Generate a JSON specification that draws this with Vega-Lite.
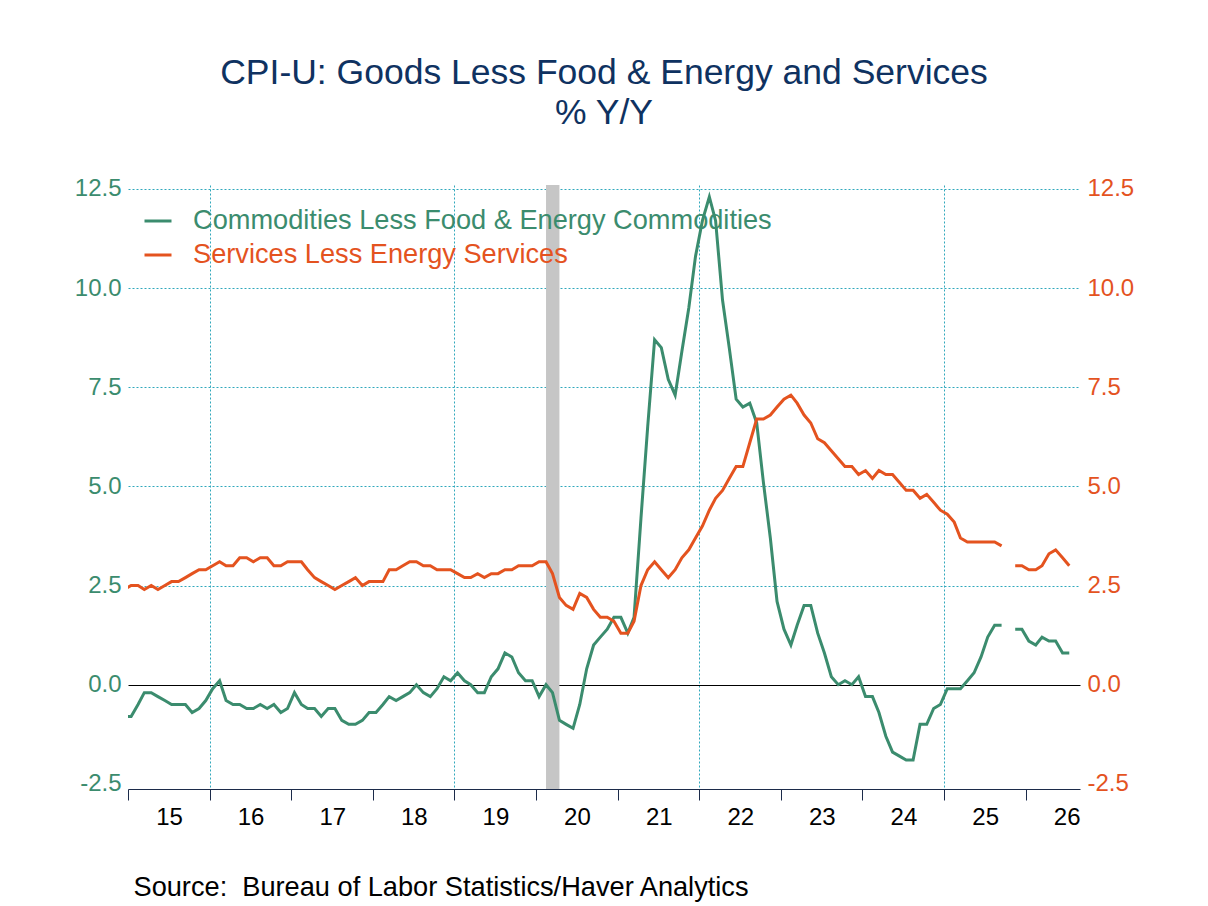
{
  "$schema": "https://vega.github.io/schema/vega-lite/v6.json",
  "width": 952,
  "height": 604,
  "autosize": "none",
  "padding": {"left": 128, "top": 185, "right": 128, "bottom": 117},
  "background": "white",
  "title": {
    "text": ["CPI-U: Goods Less Food & Energy and Services", "% Y/Y"],
    "fontSize": 35.5,
    "fontWeight": "normal",
    "color": "#0f3261",
    "anchor": "middle",
    "frame": "group",
    "lineHeight": 40,
    "offset": 45
  },
  "datasets": {
    "recession": [{"start": "2020-02-15", "end": "2020-04-15"}],
    "cpi": [
      {"date": "2014-12-15", "goods": -0.8, "services": 2.4},
      {"date": "2015-01-15", "goods": -0.8, "services": 2.5},
      {"date": "2015-02-15", "goods": -0.5, "services": 2.5},
      {"date": "2015-03-15", "goods": -0.2, "services": 2.4},
      {"date": "2015-04-15", "goods": -0.2, "services": 2.5},
      {"date": "2015-05-15", "goods": -0.3, "services": 2.4},
      {"date": "2015-06-15", "goods": -0.4, "services": 2.5},
      {"date": "2015-07-15", "goods": -0.5, "services": 2.6},
      {"date": "2015-08-15", "goods": -0.5, "services": 2.6},
      {"date": "2015-09-15", "goods": -0.5, "services": 2.7},
      {"date": "2015-10-15", "goods": -0.7, "services": 2.8},
      {"date": "2015-11-15", "goods": -0.6, "services": 2.9},
      {"date": "2015-12-15", "goods": -0.4, "services": 2.9},
      {"date": "2016-01-15", "goods": -0.1, "services": 3.0},
      {"date": "2016-02-15", "goods": 0.1, "services": 3.1},
      {"date": "2016-03-15", "goods": -0.4, "services": 3.0},
      {"date": "2016-04-15", "goods": -0.5, "services": 3.0},
      {"date": "2016-05-15", "goods": -0.5, "services": 3.2},
      {"date": "2016-06-15", "goods": -0.6, "services": 3.2},
      {"date": "2016-07-15", "goods": -0.6, "services": 3.1},
      {"date": "2016-08-15", "goods": -0.5, "services": 3.2},
      {"date": "2016-09-15", "goods": -0.6, "services": 3.2},
      {"date": "2016-10-15", "goods": -0.5, "services": 3.0},
      {"date": "2016-11-15", "goods": -0.7, "services": 3.0},
      {"date": "2016-12-15", "goods": -0.6, "services": 3.1},
      {"date": "2017-01-15", "goods": -0.2, "services": 3.1},
      {"date": "2017-02-15", "goods": -0.5, "services": 3.1},
      {"date": "2017-03-15", "goods": -0.6, "services": 2.9},
      {"date": "2017-04-15", "goods": -0.6, "services": 2.7},
      {"date": "2017-05-15", "goods": -0.8, "services": 2.6},
      {"date": "2017-06-15", "goods": -0.6, "services": 2.5},
      {"date": "2017-07-15", "goods": -0.6, "services": 2.4},
      {"date": "2017-08-15", "goods": -0.9, "services": 2.5},
      {"date": "2017-09-15", "goods": -1.0, "services": 2.6},
      {"date": "2017-10-15", "goods": -1.0, "services": 2.7},
      {"date": "2017-11-15", "goods": -0.9, "services": 2.5},
      {"date": "2017-12-15", "goods": -0.7, "services": 2.6},
      {"date": "2018-01-15", "goods": -0.7, "services": 2.6},
      {"date": "2018-02-15", "goods": -0.5, "services": 2.6},
      {"date": "2018-03-15", "goods": -0.3, "services": 2.9},
      {"date": "2018-04-15", "goods": -0.4, "services": 2.9},
      {"date": "2018-05-15", "goods": -0.3, "services": 3.0},
      {"date": "2018-06-15", "goods": -0.2, "services": 3.1},
      {"date": "2018-07-15", "goods": 0.0, "services": 3.1},
      {"date": "2018-08-15", "goods": -0.2, "services": 3.0},
      {"date": "2018-09-15", "goods": -0.3, "services": 3.0},
      {"date": "2018-10-15", "goods": -0.1, "services": 2.9},
      {"date": "2018-11-15", "goods": 0.2, "services": 2.9},
      {"date": "2018-12-15", "goods": 0.1, "services": 2.9},
      {"date": "2019-01-15", "goods": 0.3, "services": 2.8},
      {"date": "2019-02-15", "goods": 0.1, "services": 2.7},
      {"date": "2019-03-15", "goods": 0.0, "services": 2.7},
      {"date": "2019-04-15", "goods": -0.2, "services": 2.8},
      {"date": "2019-05-15", "goods": -0.2, "services": 2.7},
      {"date": "2019-06-15", "goods": 0.2, "services": 2.8},
      {"date": "2019-07-15", "goods": 0.4, "services": 2.8},
      {"date": "2019-08-15", "goods": 0.8, "services": 2.9},
      {"date": "2019-09-15", "goods": 0.7, "services": 2.9},
      {"date": "2019-10-15", "goods": 0.3, "services": 3.0},
      {"date": "2019-11-15", "goods": 0.1, "services": 3.0},
      {"date": "2019-12-15", "goods": 0.1, "services": 3.0},
      {"date": "2020-01-15", "goods": -0.3, "services": 3.1},
      {"date": "2020-02-15", "goods": 0.0, "services": 3.1},
      {"date": "2020-03-15", "goods": -0.2, "services": 2.8},
      {"date": "2020-04-15", "goods": -0.9, "services": 2.2},
      {"date": "2020-05-15", "goods": -1.0, "services": 2.0},
      {"date": "2020-06-15", "goods": -1.1, "services": 1.9},
      {"date": "2020-07-15", "goods": -0.5, "services": 2.3},
      {"date": "2020-08-15", "goods": 0.4, "services": 2.2},
      {"date": "2020-09-15", "goods": 1.0, "services": 1.9},
      {"date": "2020-10-15", "goods": 1.2, "services": 1.7},
      {"date": "2020-11-15", "goods": 1.4, "services": 1.7},
      {"date": "2020-12-15", "goods": 1.7, "services": 1.6},
      {"date": "2021-01-15", "goods": 1.7, "services": 1.3},
      {"date": "2021-02-15", "goods": 1.3, "services": 1.3},
      {"date": "2021-03-15", "goods": 1.7, "services": 1.6},
      {"date": "2021-04-15", "goods": 4.2, "services": 2.5},
      {"date": "2021-05-15", "goods": 6.5, "services": 2.9},
      {"date": "2021-06-15", "goods": 8.7, "services": 3.1},
      {"date": "2021-07-15", "goods": 8.5, "services": 2.9},
      {"date": "2021-08-15", "goods": 7.7, "services": 2.7},
      {"date": "2021-09-15", "goods": 7.3, "services": 2.9},
      {"date": "2021-10-15", "goods": 8.4, "services": 3.2},
      {"date": "2021-11-15", "goods": 9.5, "services": 3.4},
      {"date": "2021-12-15", "goods": 10.8, "services": 3.7},
      {"date": "2022-01-15", "goods": 11.7, "services": 4.0},
      {"date": "2022-02-15", "goods": 12.3, "services": 4.4},
      {"date": "2022-03-15", "goods": 11.7, "services": 4.7},
      {"date": "2022-04-15", "goods": 9.7, "services": 4.9},
      {"date": "2022-05-15", "goods": 8.5, "services": 5.2},
      {"date": "2022-06-15", "goods": 7.2, "services": 5.5},
      {"date": "2022-07-15", "goods": 7.0, "services": 5.5},
      {"date": "2022-08-15", "goods": 7.1, "services": 6.1},
      {"date": "2022-09-15", "goods": 6.6, "services": 6.7},
      {"date": "2022-10-15", "goods": 5.1, "services": 6.7},
      {"date": "2022-11-15", "goods": 3.7, "services": 6.8},
      {"date": "2022-12-15", "goods": 2.1, "services": 7.0},
      {"date": "2023-01-15", "goods": 1.4, "services": 7.2},
      {"date": "2023-02-15", "goods": 1.0, "services": 7.3},
      {"date": "2023-03-15", "goods": 1.5, "services": 7.1},
      {"date": "2023-04-15", "goods": 2.0, "services": 6.8},
      {"date": "2023-05-15", "goods": 2.0, "services": 6.6},
      {"date": "2023-06-15", "goods": 1.3, "services": 6.2},
      {"date": "2023-07-15", "goods": 0.8, "services": 6.1},
      {"date": "2023-08-15", "goods": 0.2, "services": 5.9},
      {"date": "2023-09-15", "goods": 0.0, "services": 5.7},
      {"date": "2023-10-15", "goods": 0.1, "services": 5.5},
      {"date": "2023-11-15", "goods": 0.0, "services": 5.5},
      {"date": "2023-12-15", "goods": 0.2, "services": 5.3},
      {"date": "2024-01-15", "goods": -0.3, "services": 5.4},
      {"date": "2024-02-15", "goods": -0.3, "services": 5.2},
      {"date": "2024-03-15", "goods": -0.7, "services": 5.4},
      {"date": "2024-04-15", "goods": -1.3, "services": 5.3},
      {"date": "2024-05-15", "goods": -1.7, "services": 5.3},
      {"date": "2024-06-15", "goods": -1.8, "services": 5.1},
      {"date": "2024-07-15", "goods": -1.9, "services": 4.9},
      {"date": "2024-08-15", "goods": -1.9, "services": 4.9},
      {"date": "2024-09-15", "goods": -1.0, "services": 4.7},
      {"date": "2024-10-15", "goods": -1.0, "services": 4.8},
      {"date": "2024-11-15", "goods": -0.6, "services": 4.6},
      {"date": "2024-12-15", "goods": -0.5, "services": 4.4},
      {"date": "2025-01-15", "goods": -0.1, "services": 4.3},
      {"date": "2025-02-15", "goods": -0.1, "services": 4.1},
      {"date": "2025-03-15", "goods": -0.1, "services": 3.7},
      {"date": "2025-04-15", "goods": 0.1, "services": 3.6},
      {"date": "2025-05-15", "goods": 0.3, "services": 3.6},
      {"date": "2025-06-15", "goods": 0.7, "services": 3.6},
      {"date": "2025-07-15", "goods": 1.2, "services": 3.6},
      {"date": "2025-08-15", "goods": 1.5, "services": 3.6},
      {"date": "2025-09-15", "goods": 1.5, "services": 3.5},
      {"date": "2025-10-15", "goods": null, "services": null},
      {"date": "2025-11-15", "goods": 1.4, "services": 3.0},
      {"date": "2025-12-15", "goods": 1.4, "services": 3.0},
      {"date": "2026-01-15", "goods": 1.1, "services": 2.9},
      {"date": "2026-02-15", "goods": 1.0, "services": 2.9},
      {"date": "2026-03-15", "goods": 1.2, "services": 3.0},
      {"date": "2026-04-15", "goods": 1.1, "services": 3.3},
      {"date": "2026-05-15", "goods": 1.1, "services": 3.4},
      {"date": "2026-06-15", "goods": 0.8, "services": 3.2},
      {"date": "2026-07-15", "goods": 0.8, "services": 3.0}
    ]
  },
  "encoding": {
    "x": {
      "field": "date",
      "type": "temporal",
      "scale": {"domain": [{"year": 2015, "month": 1, "date": 1}, {"year": 2026, "month": 9, "date": 1}]},
      "axis": {
        "title": "Source:\u00a0 Bureau of Labor Statistics/Haver Analytics",
        "titleFont": "Liberation Sans",
        "titleFontSize": 27.2,
        "titleFontWeight": "normal",
        "titleColor": "#000000",
        "titleAlign": "left",
        "titleBaseline": "alphabetic",
        "titleX": 5,
        "titleY": 106,
        "values": [
          {"year": 2015, "month": 1, "date": 1}, {"year": 2016, "month": 1, "date": 1},
          {"year": 2017, "month": 1, "date": 1}, {"year": 2018, "month": 1, "date": 1},
          {"year": 2019, "month": 1, "date": 1}, {"year": 2020, "month": 1, "date": 1},
          {"year": 2021, "month": 1, "date": 1}, {"year": 2022, "month": 1, "date": 1},
          {"year": 2023, "month": 1, "date": 1}, {"year": 2024, "month": 1, "date": 1},
          {"year": 2025, "month": 1, "date": 1}, {"year": 2026, "month": 1, "date": 1}
        ],
        "format": "%y",
        "labelFontSize": 24,
        "labelColor": "#000000",
        "labelOffset": 41,
        "labelFlush": false,
        "labelOverlap": false,
        "labelBound": false,
        "labelPadding": 5,
        "tickSize": 11,
        "tickColor": "#1c2b4a",
        "domainColor": "#1c2b4a",
        "grid": true,
        "gridColor": "#30a8bc",
        "gridDash": [2, 2],
        "gridOpacity": {"condition": {"test": "year(datum.value) % 3 == 0", "value": 1}, "value": 0}
      }
    }
  },
  "layer": [
    {
      "data": {"name": "recession"},
      "mark": {"type": "rect", "color": "#c6c6c6"},
      "encoding": {
        "x": {
          "field": "start",
          "type": "temporal",
          "scale": {"domain": [{"year": 2015, "month": 1, "date": 1}, {"year": 2026, "month": 9, "date": 1}]}
        },
        "x2": {"field": "end"}
      }
    },
    {
      "data": {"name": "cpi"},
      "transform": [
        {"fold": ["goods", "services"], "as": ["series", "value"]},
        {"filter": "datum.series == 'goods'"}
      ],
      "mark": {"type": "line", "strokeWidth": 3, "clip": true},
      "encoding": {
        "y": {
          "field": "value",
          "type": "quantitative",
          "scale": {"domain": [-2.63, 12.6], "nice": false, "zero": false},
          "axis": {
            "orient": "left",
            "title": null,
            "values": [-2.5, 0, 2.5, 5, 7.5, 10, 12.5],
            "labelExpr": "(datum.value < 0 ? '-' : '') + format(abs(datum.value), '.1f')",
            "domain": false,
            "ticks": false,
            "labelFontSize": 24,
            "labelColor": "#3b8c6e",
            "labelPadding": 7,
            "grid": true,
            "gridWidth": 1,
            "gridColor": {"condition": {"test": "datum.value == 0", "value": "#000000"}, "value": "#30a8bc"},
            "gridDash": {"condition": {"test": "datum.value == 0", "value": []}, "value": [2, 2]},
            "gridOpacity": {"condition": {"test": "datum.value < -1", "value": 0}, "value": 1}
          }
        },
        "stroke": {
          "field": "series",
          "type": "nominal",
          "scale": {"domain": ["goods"], "range": ["#3b8c6e"]},
          "legend": {
            "orient": "none",
            "legendX": 15,
            "legendY": 21,
            "title": null,
            "padding": 0,
            "symbolType": "stroke",
            "symbolSize": 729,
            "symbolStrokeWidth": 3,
            "labelFontSize": 27.2,
            "labelOffset": 20,
            "labelLimit": 0,
            "labelColor": "#3b8c6e",
            "labelExpr": "'Commodities Less Food & Energy Commodities'"
          }
        }
      }
    },
    {
      "data": {"name": "cpi"},
      "transform": [
        {"fold": ["goods", "services"], "as": ["series", "value"]},
        {"filter": "datum.series == 'services'"}
      ],
      "mark": {"type": "line", "strokeWidth": 3, "clip": true},
      "encoding": {
        "y": {
          "field": "value",
          "type": "quantitative",
          "scale": {"domain": [-2.63, 12.6], "nice": false, "zero": false},
          "axis": {
            "orient": "right",
            "title": null,
            "values": [-2.5, 0, 2.5, 5, 7.5, 10, 12.5],
            "labelExpr": "(datum.value < 0 ? '-' : '') + format(abs(datum.value), '.1f')",
            "domain": false,
            "ticks": false,
            "grid": false,
            "labelFontSize": 24,
            "labelColor": "#e4531f",
            "labelPadding": 7
          }
        },
        "color": {
          "field": "series",
          "type": "nominal",
          "scale": {"domain": ["services"], "range": ["#e4531f"]},
          "legend": {
            "orient": "none",
            "legendX": 15,
            "legendY": 55,
            "title": null,
            "padding": 0,
            "symbolType": "stroke",
            "symbolSize": 729,
            "symbolStrokeWidth": 3,
            "labelFontSize": 27.2,
            "labelOffset": 20,
            "labelLimit": 0,
            "labelColor": "#e4531f",
            "labelExpr": "'Services Less Energy Services'"
          }
        }
      }
    }
  ],
  "resolve": {"scale": {"y": "independent"}},
  "config": {
    "font": "Liberation Sans",
    "view": {"stroke": null}
  }
}
